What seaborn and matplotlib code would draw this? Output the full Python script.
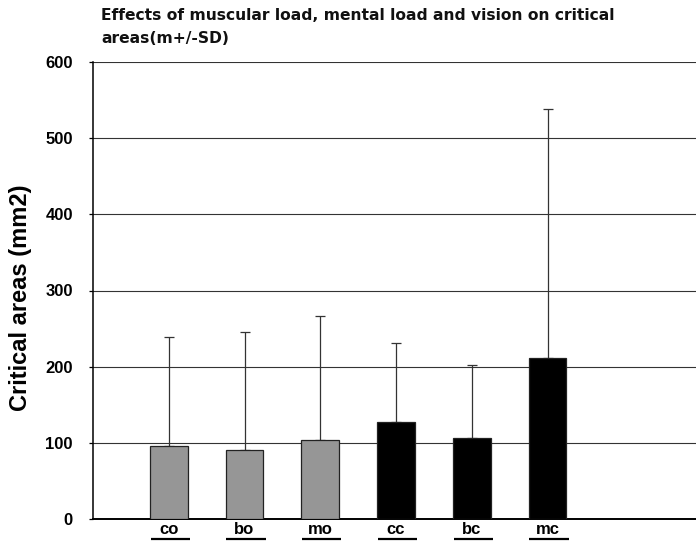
import matplotlib
matplotlib.use("Agg")
import matplotlib.pyplot as plt
import matplotlib.transforms as mtransforms
import seaborn as sns
import pandas as pd
import numpy as np

# Condition codes and measured critical areas (mean and SD, mm2)
conditions = ["co", "bo", "mo", "cc", "bc", "mc"]
means = [96, 90, 104, 127, 106, 212]
sds = [143, 155, 162, 104, 96, 326]
bar_colors = ["#969696", "#969696", "#969696", "#000000", "#000000", "#000000"]
y_ticks = [0, 100, 200, 300, 400, 500, 600]

title_text = "Effects of muscular load, mental load and vision on critical\nareas(m+/-SD)"
y_label = "Critical areas (mm2)"

sns.set_theme(style="white")
plt.rcParams["font.family"] = ["Liberation Sans", "DejaVu Sans"]
plt.rcParams["font.weight"] = "bold"

df = pd.DataFrame({"condition": conditions, "mean": means, "sd": sds})

fig = plt.figure(figsize=(6.96, 5.41), dpi=100)
ax = fig.add_axes([93 / 696, 22 / 541, 603 / 696, 457 / 541])

sns.barplot(data=df, x="condition", y="mean", hue="condition",
            palette=dict(zip(conditions, bar_colors)), legend=False,
            width=0.5, edgecolor="#222222", linewidth=0.9, ax=ax, zorder=3)

# upper error bars only (m + SD)
xpos = np.arange(len(conditions))
ax.errorbar(xpos, means, yerr=[np.zeros(len(sds)), sds], fmt="none",
            ecolor="#333333", elinewidth=0.9, capsize=3.5, capthick=0.9, zorder=2)

ax.set_xlim(-1, 6.96)
ax.set_ylim(0, 600)
ax.set_yticks(y_ticks)
ax.yaxis.grid(True, color="#333333", linewidth=0.8, zorder=0)
ax.set_axisbelow(True)

for side in ["top", "right"]:
    ax.spines[side].set_visible(False)
ax.spines["left"].set_color("black")
ax.spines["left"].set_linewidth(1.1)
ax.spines["bottom"].set_color("black")
ax.spines["bottom"].set_linewidth(1.4)

ax.tick_params(axis="y", which="major", left=True, length=3, width=0.9,
               color="black", pad=11.5, labelsize=12, labelcolor="black")
ax.tick_params(axis="x", which="major", bottom=False, length=0, pad=2.5,
               labelsize=12, labelcolor="black")
for lab in ax.get_xticklabels() + ax.get_yticklabels():
    lab.set_fontweight("bold")

ax.set_xlabel("")
ax.set_ylabel(y_label, fontsize=17, fontweight="heavy", color="black")
ax.yaxis.set_label_coords((21 - 93) / 603, (519 - 297.5) / 457)
ax.yaxis.label.set_verticalalignment("center")

# underlines below the category labels
trans = mtransforms.blended_transform_factory(ax.transData, ax.transAxes)
for x in xpos:
    ax.plot([x - 0.24, x + 0.28], [-0.0438, -0.0438], transform=trans,
            color="black", linewidth=1.6, clip_on=False, solid_capstyle="butt")

ax.text((101 - 93) / 603, 1 + (62 - 43.3) / 457, title_text, transform=ax.transAxes,
        ha="left", va="baseline", fontsize=11.15, fontweight="bold", color="#111111",
        linespacing=1.65, family=["DejaVu Sans"])

fig.savefig("out.png", dpi=100)
